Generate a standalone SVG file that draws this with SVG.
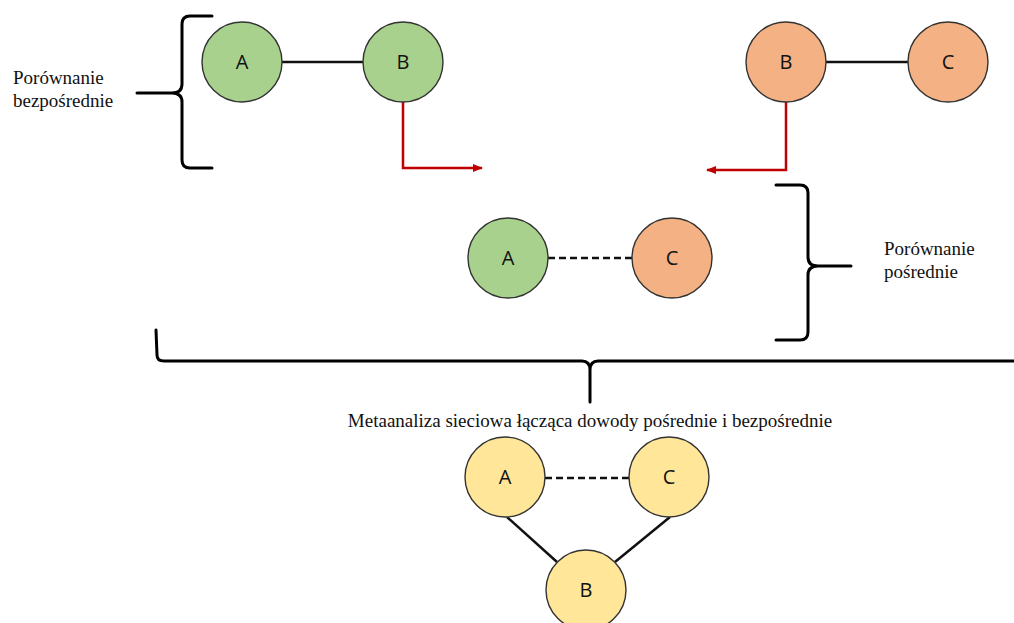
<svg xmlns="http://www.w3.org/2000/svg" width="1014" height="623" viewBox="0 0 1014 623">
<defs>
<style>
.n circle{stroke:#333;stroke-width:1.4}
.g{fill:#a9d18e}.o{fill:#f4b183}.y{fill:#ffe699}
.lbl{font-family:"Open Sans","Liberation Sans",sans-serif;font-size:20px;fill:#111;text-anchor:middle}
.t{font-family:"Liberation Serif",serif;font-size:19px;fill:#111}
.br{fill:none;stroke:#000;stroke-width:3;stroke-linecap:round;stroke-linejoin:round}
.e{stroke:#111;stroke-width:2.5;fill:none}
.d{stroke-dasharray:7,4}
.r{stroke:#c00000;stroke-width:2.5;fill:none}
</style>
<marker id="ah" viewBox="0 0 10 10" refX="9" refY="5" markerWidth="4" markerHeight="4" orient="auto" markerUnits="strokeWidth">
<path d="M0,1 L10,5 L0,9 Z" fill="#c00000"/>
</marker>
</defs>
<rect width="1014" height="623" fill="#fff"/>
<g id="connectors">
<line class="e" x1="282" y1="62" x2="363" y2="62"/>
<line class="e" x1="826" y1="62" x2="908" y2="62"/>
<line class="e d" x1="548" y1="258" x2="632" y2="258"/>
<line class="e d" x1="545" y1="478" x2="629" y2="478"/>
<line class="e" x1="507" y1="517" x2="557" y2="562"/>
<line class="e" x1="670" y1="517" x2="615" y2="562"/>
<polyline class="r" points="403,102 403,168 482,168" marker-end="url(#ah)"/>
<polyline class="r" points="786,102 786,170 707,170" marker-end="url(#ah)"/>
</g>
<g id="brackets">
<path class="br" d="M212,16 L190,16 Q182,16 182,24 L182,84 Q182,93 172,93 L137,93 M172,93 Q182,93 182,102 L182,160 Q182,168 190,168 L212,168"/>
<path class="br" d="M776,185 L800,185 Q808,185 808,193 L808,257 Q808,266 818,266 L851,266 M818,266 Q808,266 808,275 L808,332 Q808,340 800,340 L776,340"/>
<path class="br" d="M156,330 L157,355 Q157,361 164,361 L582,361 Q590,361 590,370 L590,402 M590,370 Q590,361 598,361 L1014,361"/>
</g>
<g id="labels">
<text class="t" x="13" y="84">Porównanie</text>
<text class="t" x="13" y="107">bezpośrednie</text>
<text class="t" x="884" y="255">Porównanie</text>
<text class="t" x="884" y="278">pośrednie</text>
<text class="t" x="590" y="427" text-anchor="middle">Metaanaliza sieciowa łącząca dowody pośrednie i bezpośrednie</text>
</g>
<g id="n-A1" class="n"><circle class="g" cx="242" cy="62" r="40"/><text class="lbl" x="242" y="69">A</text></g>
<g id="n-B1" class="n"><circle class="g" cx="403" cy="62" r="40"/><text class="lbl" x="403" y="69">B</text></g>
<g id="n-B2" class="n"><circle class="o" cx="786" cy="62" r="40"/><text class="lbl" x="786" y="69">B</text></g>
<g id="n-C2" class="n"><circle class="o" cx="948" cy="62" r="40"/><text class="lbl" x="948" y="69">C</text></g>
<g id="n-A3" class="n"><circle class="g" cx="508" cy="258" r="40"/><text class="lbl" x="508" y="265">A</text></g>
<g id="n-C3" class="n"><circle class="o" cx="672" cy="258" r="40"/><text class="lbl" x="672" y="265">C</text></g>
<g id="n-A4" class="n"><circle class="y" cx="505" cy="477" r="40"/><text class="lbl" x="505" y="484">A</text></g>
<g id="n-C4" class="n"><circle class="y" cx="669" cy="477" r="40"/><text class="lbl" x="669" y="484">C</text></g>
<g id="n-B4" class="n"><circle class="y" cx="586" cy="590" r="40"/><text class="lbl" x="586" y="597">B</text></g>
</svg>
